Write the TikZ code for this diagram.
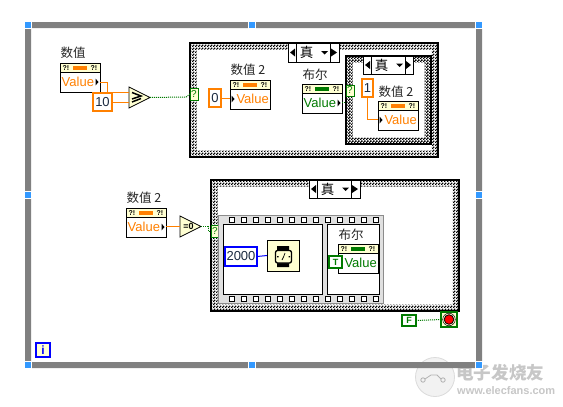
\documentclass[tikz,border=0pt]{standalone}
\usepackage{fontspec}
\setmainfont{Liberation Sans}
\newfontfamily\cjkf{Noto Sans CJK SC}
\usetikzlibrary{patterns}
\definecolor{lvor}{HTML}{FF8000}
\definecolor{lvgr}{HTML}{007A00}
\definecolor{lvbl}{HTML}{0000FF}
\definecolor{lvye}{HTML}{FFFFD2}
\definecolor{lvgy}{HTML}{808080}
\definecolor{lvha}{HTML}{3399FF}
\definecolor{lvtx}{HTML}{1A2A40}
\pgfdeclarepatternformonly{lvcheck}{\pgfpointorigin}{\pgfqpoint{3pt}{3pt}}{\pgfqpoint{3pt}{3pt}}{%
  \pgfpathrectangle{\pgfqpoint{0pt}{0pt}}{\pgfqpoint{1.8pt}{1.8pt}}%
  \pgfpathrectangle{\pgfqpoint{1.5pt}{1.5pt}}{\pgfqpoint{1.8pt}{1.8pt}}%
  \pgfusepath{fill}}
\tikzset{
  rbox/.style={rectangle,inner sep=0pt,outer sep=0pt},
  blk/.style={draw=black,line width=1pt,fill=white},
  numconst/.style={draw=lvor,line width=2.4pt,fill=white,text=lvtx,font=\fontsize{13}{13}\selectfont},
  dblconst/.style={draw=lvbl,line width=2.4pt,fill=white,text=lvtx,font=\fontsize{13}{13}\selectfont},
  boolconst/.style={draw=lvgr,line width=2.2pt,fill=white,text=lvgr,font=\fontsize{9}{9}\selectfont\bfseries},
  selterm/.style={draw=lvgr,line width=1pt,fill=lvye,text=lvgr,font=\fontsize{10}{10}\selectfont},
  lbl/.style={inner sep=0pt,outer sep=0pt,text=black!85,font=\cjkf\fontsize{12.5}{13}\selectfont},
  wor/.style={draw=lvor,line width=1pt},
  wbl/.style={draw=lvbl,line width=1pt},
  wbo/.style={draw=lvgr,line width=1pt,dash pattern=on 1pt off 1pt},
}
% \rnode{name}{style}{x1}{y1}{x2}{y2}{text}
\newcommand\rnode[7]{\node[rbox,#2,minimum width={(#5-#3)*1pt},minimum height={(#6-#4)*1pt}] (#1) at ({(#3+#5)/2},{(#4+#6)/2}) {#7};}
% \casebox{name}{x1}{y1}{x2}{y2}
\newcommand\casebox[5]{%
  \rnode{#1}{fill=white}{#2}{#3}{#4}{#5}{}
  \fill[pattern=lvcheck,even odd rule] (#2,#3) rectangle (#4,#5) ({#2+6.5},{#3+6.5}) rectangle ({#4-6.5},{#5-6.5});
  \draw[black,line width=1.4pt] (#1.north west) rectangle (#1.south east);}
% \selector{name}{x1}{y1}{x2}{y2}{div1}{div2}
\newcommand\selector[7]{%
  \rnode{#1}{blk}{#2}{#3}{#4}{#5}{}
  \draw[black,line width=1pt] (#6,#3) -- (#6,#5) (#7,#3) -- (#7,#5);
  \fill ({#2+2},{(#3+#5)/2}) -- ({#6-1},{(#3+#5)/2-4}) -- ({#6-1},{(#3+#5)/2+4}) -- cycle;
  \fill ({#4-2},{(#3+#5)/2}) -- ({#7+1},{(#3+#5)/2-4}) -- ({#7+1},{(#3+#5)/2+4}) -- cycle;
  \fill ({#7-9},{(#3+#5)/2-1.5}) -- ({#7-2},{(#3+#5)/2-1.5}) -- ({#7-5.5},{(#3+#5)/2+2}) -- cycle;
  \node[lbl,text=black,font=\cjkf\fontsize{13.5}{14}\selectfont] (#1t) at ({#6+10.5},{(#3+#5)/2}) {真};}
% \term{name}{x}{y}{colour}{side}  side: 0 none, -1 arrow left, 1 arrow right
\newcommand\term[5]{%
  \rnode{#1}{blk}{#2}{#3}{#2+40}{#3+29}{}
  \fill[lvye,draw=black,line width=.8pt] (#2,#3) rectangle ({#2+40},{#3+9});
  \fill[#4] ({#2+13},{#3+2.5}) rectangle ({#2+27},{#3+7});
  \node[inner sep=0pt,font=\fontsize{7}{7}\selectfont\bfseries] (#1a) at ({#2+6},{#3+4.7}) {?!};
  \node[inner sep=0pt,font=\fontsize{7}{7}\selectfont\bfseries] (#1b) at ({#2+34},{#3+4.7}) {?!};
  \ifnum#5=1
    \node[inner sep=0pt,anchor=west,text=#4,font=\fontsize{13}{13}\selectfont] (#1v) at ({#2+1.5},{#3+19}) {Value};
    \fill ({#2+38.5},{#3+19}) -- ({#2+35.5},{#3+15.5}) -- ({#2+35.5},{#3+22.5}) -- cycle;
  \else\ifnum#5=-1
    \node[inner sep=0pt,anchor=east,text=#4,font=\fontsize{13}{13}\selectfont] (#1v) at ({#2+39},{#3+19}) {Value};
    \fill ({#2+4.5},{#3+19}) -- ({#2+1.5},{#3+15.5}) -- ({#2+1.5},{#3+22.5}) -- cycle;
  \else
    \node[inner sep=0pt,anchor=east,text=#4,font=\fontsize{13}{13}\selectfont] (#1v) at ({#2+39},{#3+19}) {Value};
  \fi\fi}
\begin{document}
\begin{tikzpicture}[x=1pt,y=-1pt]
\useasboundingbox (0,0) rectangle (563,407);
\fill[white] (0,0) rectangle (563,407);
% watermark
\coordinate (wl) at (435,377);
\fill[black!5,draw=black!14,line width=.8pt] (wl) circle (19.5);
\draw[black!30,line width=.8pt] (423,380) circle (2.2) (443,380) circle (2.2);
\draw[black!30,line width=.8pt] (425,379) -- (431,375) -- (437,375) -- (441,379);
\node[inner sep=0pt,anchor=west,text=black!22,font=\cjkf\bfseries\fontsize{17.6}{18}\selectfont] (wm1) at (456,373) {电子发烧友};
\node[inner sep=0pt,anchor=west,text=black!22,font=\bfseries\fontsize{11}{12}\selectfont] (wm2) at (457,391) {www.elecfans.com};
% while loop frame
\fill[lvgy,even odd rule] (25,22) rectangle (482,368) (31,28) rectangle (476,362);
\foreach \hx/\hy in {28/25,252/25,479/25,28/195,479/195,28/365,252/365,479/365}{
  \fill[white] (\hx-4,\hy-4) rectangle (\hx+4,\hy+4);
  \fill[lvha] (\hx-3,\hy-3) rectangle (\hx+3,\hy+3);}
% first case
\casebox{caseA}{190}{43}{438}{157}
\selector{selA}{288}{43}{339}{62}{296}{330}
\casebox{caseB}{346}{56}{431}{144}
\selector{selB}{363}{56}{413}{74}{371}{405}
% top-left
\node[lbl] (lA) at (73,53) {数值};
\term{numA}{60}{63}{lvor}{1}
\rnode{ten}{numconst}{93}{93}{112}{111}{10}
\rnode{cmp}{}{129}{87}{150}{108}{}
\filldraw[fill=lvye,draw=black,line width=.8pt] (cmp.north west) -- (cmp.east) -- (cmp.south west) -- cycle;
\draw[black,line width=1.5pt] (132,92.5) -- (141,96) -- (132,99) (132,102) -- (141,98.5);
\rnode{tA}{selterm}{190}{88}{198}{100}{?}
\coordinate (nAo) at (100,82);
\coordinate (cmpa) at (129,92);
\coordinate (cmpb) at (129,102);
\draw[wor] (nAo) -| (107,92) -- (cmpa);
\draw[wor] (ten.east |- cmpb) -- (cmpb);
\draw[wbo] (cmp.east) -- (186,97) -- (tA.west |- 0,94);
% case A content
\rnode{zero}{numconst}{209}{89}{221}{107}{0}
\node[lbl] (lB) at (248,70) {数值 2};
\term{numB}{230}{80}{lvor}{-1}
\draw[wor] (zero.east) -- (zero.east -| numB.west);
\node[lbl] (lC) at (315,75) {布尔};
\term{boolA}{302}{84}{lvgr}{1}
\rnode{tB}{selterm}{346}{85}{354}{96}{?}
\draw[wbo] (boolA.east |- 0,102) -- (tB.west |- 0,102);
\rnode{one}{numconst}{362}{79}{373}{97}{1}
\node[lbl] (lD) at (396,92) {数值 2};
\term{numC}{378}{101}{lvor}{-1}
\coordinate (nCi) at (378,119);
\draw[wor] (one.south) |- (nCi);
% lower
\node[lbl] (lE) at (144,198) {数值 2};
\term{numD}{126}{208}{lvor}{1}
\rnode{eqz}{}{180}{216}{201}{237}{}
\filldraw[fill=lvye,draw=black,line width=.8pt] (eqz.north west) -- (eqz.east) -- (eqz.south west) -- cycle;
\node[inner sep=0pt,font=\fontsize{9}{9}\selectfont\bfseries] (eqzt) at (188.5,226.5) {=0};
\casebox{caseC}{211}{180}{459}{311}
\selector{selC}{309}{180}{360}{198}{317}{351}
\rnode{tC}{selterm}{211}{225}{219}{237}{?}
\draw[wor] (numD.east |- eqz.center) -- (eqz.west);
\draw[wbo] (eqz.east) -- (208,226.5) -- (208,231) -- (tC.west |- 0,231);
% flat sequence
\rnode{film}{fill=black!12,draw=black!45,line width=.6pt}{218}{215}{383}{303}{}
\foreach \hx in {229,241,...,373}{
  \filldraw[fill=white,draw=black,line width=.8pt] (\hx,217.5) rectangle (\hx+5,222.5);
  \filldraw[fill=white,draw=black,line width=.8pt] (\hx,296.5) rectangle (\hx+5,301.5);}
\rnode{frA}{blk}{223}{224}{322}{294}{}
\rnode{frB}{blk}{327}{224}{379}{294}{}
\rnode{twok}{dblconst}{225}{247}{257}{266}{2000}
\rnode{wait}{draw=black,line width=1pt,fill=lvye}{267}{240}{299}{271}{}
\draw[wbl] (twok.east) -- (wait.west);
\fill[black] (277,246) rectangle (289,251) (277,262) rectangle (289,267);
\filldraw[fill=lvye,draw=black,line width=1.3pt,rounded corners=2pt] (275.5,250.5) rectangle (291.5,263);
\draw[black,line width=.7pt] (283.5,257) -- (282,260) (283.5,257) -- (285,253);
\fill[black] (277,256.2) rectangle (278.5,257.4) (288.5,256.2) rectangle (290,257.4);
\node[lbl] (lF) at (351,235) {布尔};
\term{boolB}{338}{244}{lvgr}{0}
\rnode{tk}{boolconst}{329}{256}{342}{268}{T}
% stop
\rnode{fk}{boolconst}{402}{315}{416}{326}{F}
\rnode{stp}{draw=lvgr,line width=1.2pt,fill=lvye}{441}{312}{457}{327}{}
\filldraw[fill=red,draw=black,line width=.8pt] (stp.center) circle (4.8);
\draw[black,line width=.5pt] (stp.center) circle (6.3);
\draw[wbo] (fk.east) -- (stp.west);
% iteration
\rnode{iter}{draw=lvbl,line width=2.4pt,fill=lvye,text=lvbl,font=\fontsize{12}{12}\selectfont\bfseries}{36}{343}{50}{357}{i}
\end{tikzpicture}
\end{document}
